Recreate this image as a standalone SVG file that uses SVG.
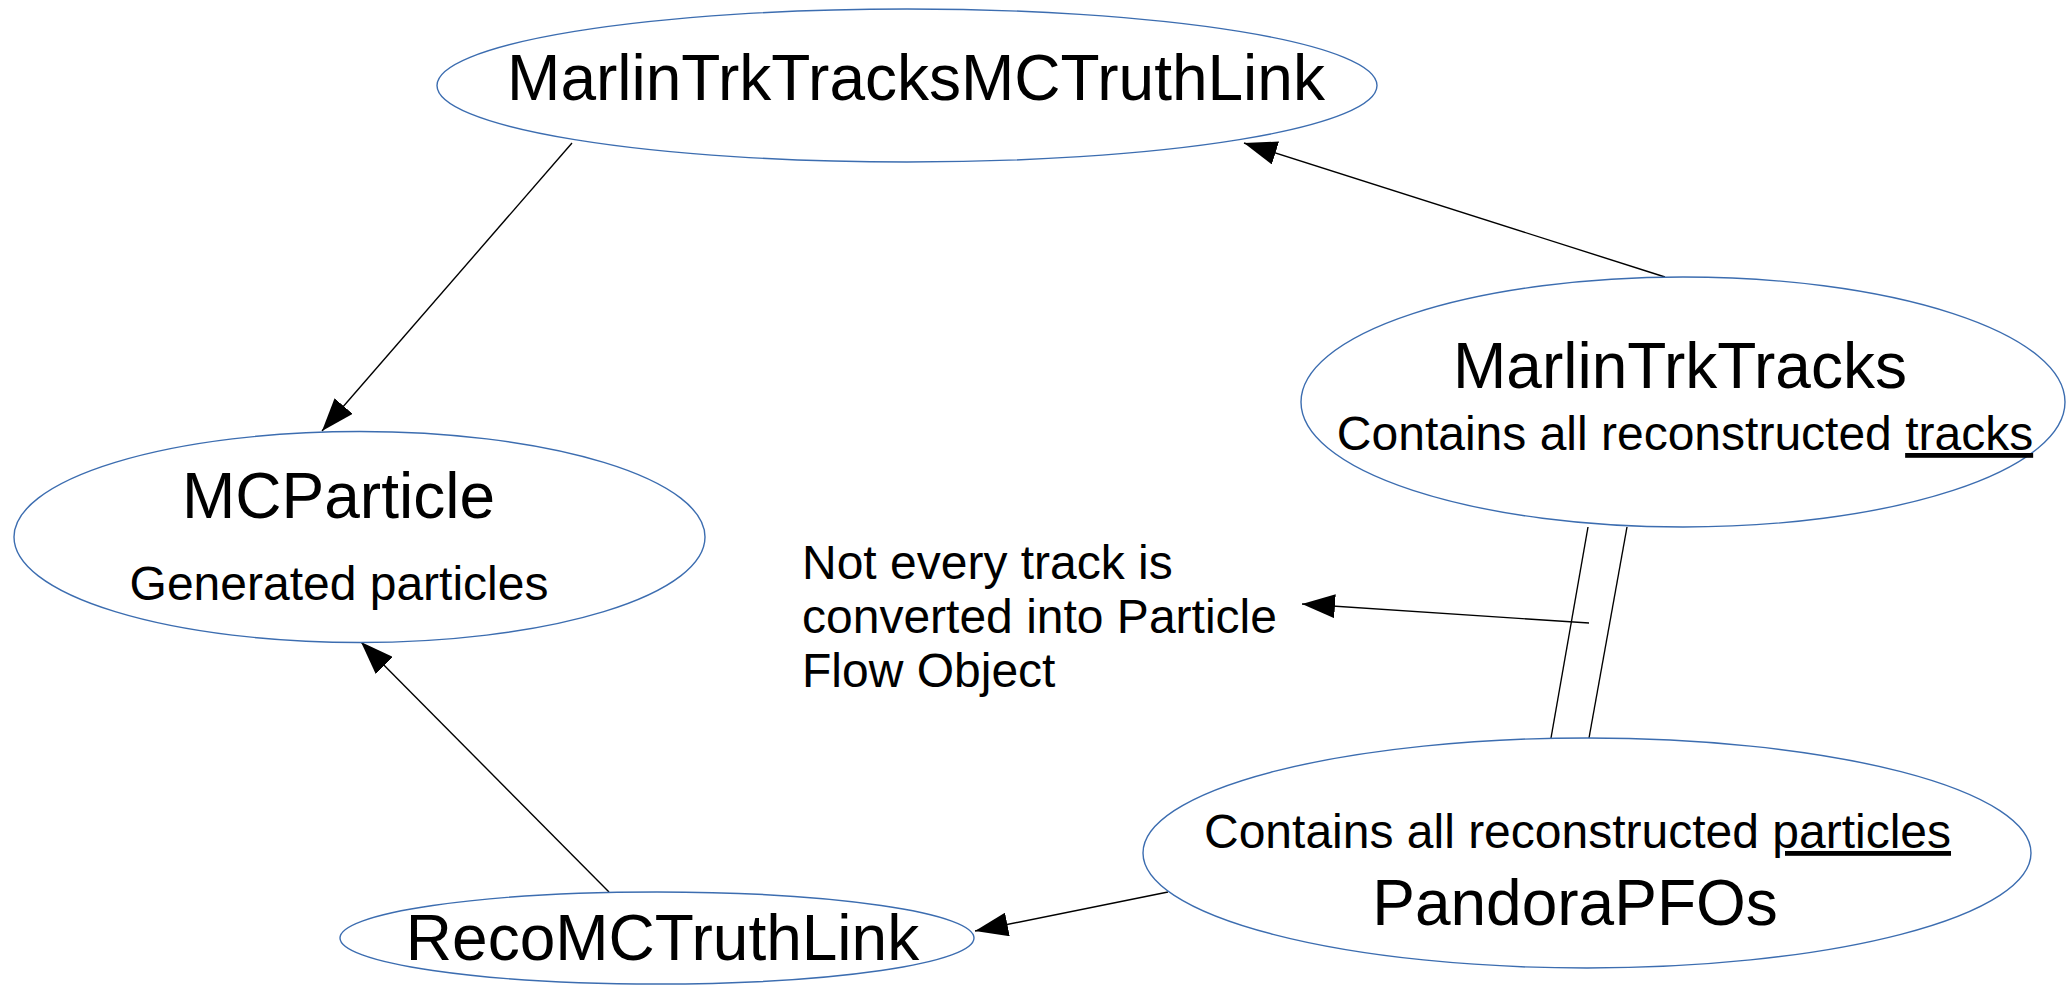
<svg xmlns="http://www.w3.org/2000/svg" width="2067" height="987" viewBox="0 0 2067 987">
<style>
.node{fill:#ffffff;stroke:#3c6db0;stroke-width:1.4}
.big{font-family:"Liberation Sans",Arial,sans-serif;font-size:64px;fill:#000;text-anchor:middle}
.small{font-family:"Liberation Sans",Arial,sans-serif;font-size:48px;fill:#000;text-anchor:middle}
.note{font-family:"Liberation Sans",Arial,sans-serif;font-size:48px;fill:#000}
.edge{stroke:#000;stroke-width:1.4;fill:none}
</style>
<defs>
<marker id="arrow" markerUnits="userSpaceOnUse" markerWidth="34" markerHeight="24" viewBox="0 0 34 24" refX="33" refY="12" orient="auto">
<path d="M0,0 L33,12 L0,24 z" fill="#000"/>
</marker>
</defs>
<rect width="2067" height="987" fill="#ffffff"/>
<g id="connectors">
<line class="edge" x1="572" y1="143" x2="322" y2="431" marker-end="url(#arrow)"/>
<line class="edge" x1="1665" y1="277" x2="1244" y2="143" marker-end="url(#arrow)"/>
<line class="edge" x1="609" y1="892" x2="361" y2="642" marker-end="url(#arrow)"/>
<line class="edge" x1="1168" y1="892" x2="975" y2="931" marker-end="url(#arrow)"/>
<line class="edge" x1="1588" y1="527" x2="1551" y2="738"/>
<line class="edge" x1="1627" y1="527" x2="1589" y2="738"/>
<line class="edge" x1="1589" y1="623" x2="1302" y2="604" marker-end="url(#arrow)"/>
</g>
<g id="node-MarlinTrkTracksMCTruthLink">
<ellipse class="node" cx="907" cy="85.5" rx="470" ry="76.5"/>
<text class="big" x="916" y="100">MarlinTrkTracksMCTruthLink</text>
</g>
<g id="node-MarlinTrkTracks">
<ellipse class="node" cx="1683" cy="402" rx="382" ry="125"/>
<text class="big" x="1680" y="388">MarlinTrkTracks</text>
<text class="small" x="1685" y="450">Contains all reconstructed <tspan text-decoration="underline">tracks</tspan></text>
</g>
<g id="node-MCParticle">
<ellipse class="node" cx="359.5" cy="537" rx="345.5" ry="105.5"/>
<text class="big" x="338.5" y="518">MCParticle</text>
<text class="small" x="339" y="600">Generated particles</text>
</g>
<g id="node-RecoMCTruthLink">
<ellipse class="node" cx="657" cy="938" rx="317" ry="46"/>
<text class="big" x="662.5" y="960">RecoMCTruthLink</text>
</g>
<g id="node-PandoraPFOs">
<ellipse class="node" cx="1587" cy="853" rx="444" ry="115"/>
<text class="small" x="1577.5" y="848">Contains all reconstructed <tspan text-decoration="underline">particles</tspan></text>
<text class="big" x="1575" y="925">PandoraPFOs</text>
</g>
<g id="note">
<text class="note" x="802" y="579">Not every track is</text>
<text class="note" x="802" y="633">converted into Particle</text>
<text class="note" x="802" y="687">Flow Object</text>
</g>
</svg>
